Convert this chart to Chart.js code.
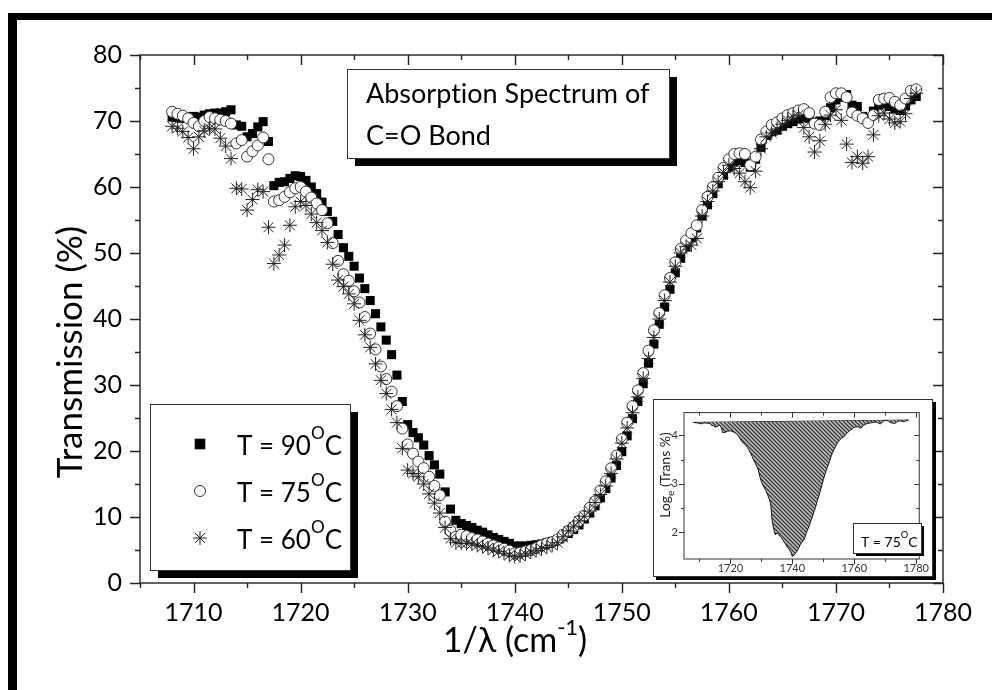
<!DOCTYPE html>
<html>
<head>
<meta charset="utf-8">
<script src="https://cdn.jsdelivr.net/npm/chart.js@4.4.1/dist/chart.umd.min.js"></script>
<style>
  html, body { margin: 0; padding: 0; background: #fff; }
  #wrap { position: relative; width: 992px; height: 690px; overflow: hidden; }
  #page { position: absolute; left: 8px; top: 13px; width: 1000px; height: 700px;
          border-top: 7px solid #000; border-left: 9px solid #000; }
  #main { position: absolute; left: 0; top: 0; }
  #insetBox { position: absolute; left: 653px; top: 399px; width: 280px; height: 178px;
              box-sizing: border-box; border: 1px solid #333; background: #fff;
              box-shadow: 3px 3px 0 #000; }
  #inset { position: absolute; left: 0; top: 0; }
</style>
</head>
<body>
<div id="wrap">
  <div id="page"></div>
  <canvas id="main" width="992" height="690"></canvas>
  <div id="insetBox"><canvas id="inset" width="278" height="176"></canvas></div>
</div>
<script>
// wavenumber grid (cm-1), shared by all three runs
var wavenumber = [
  1708.0, 1708.5, 1709.0, 1709.5, 1710.0, 1710.5, 1711.0, 1711.5, 1712.0, 1712.5,
  1713.0, 1713.5, 1714.0, 1714.5, 1715.0, 1715.5, 1716.0, 1716.5, 1717.0, 1717.5,
  1718.0, 1718.5, 1719.0, 1719.5, 1720.0, 1720.5, 1721.0, 1721.5, 1722.0, 1722.5,
  1723.0, 1723.5, 1724.0, 1724.5, 1725.0, 1725.5, 1726.0, 1726.5, 1727.0, 1727.5,
  1728.0, 1728.5, 1729.0, 1729.5, 1730.0, 1730.5, 1731.0, 1731.5, 1732.0, 1732.5,
  1733.0, 1733.5, 1734.0, 1734.5, 1735.0, 1735.5, 1736.0, 1736.5, 1737.0, 1737.5,
  1738.0, 1738.5, 1739.0, 1739.5, 1740.0, 1740.5, 1741.0, 1741.5, 1742.0, 1742.5,
  1743.0, 1743.5, 1744.0, 1744.5, 1745.0, 1745.5, 1746.0, 1746.5, 1747.0, 1747.5,
  1748.0, 1748.5, 1749.0, 1749.5, 1750.0, 1750.5, 1751.0, 1751.5, 1752.0, 1752.5,
  1753.0, 1753.5, 1754.0, 1754.5, 1755.0, 1755.5, 1756.0, 1756.5, 1757.0, 1757.5,
  1758.0, 1758.5, 1759.0, 1759.5, 1760.0, 1760.5, 1761.0, 1761.5, 1762.0, 1762.5,
  1763.0, 1763.5, 1764.0, 1764.5, 1765.0, 1765.5, 1766.0, 1766.5, 1767.0, 1767.5,
  1768.0, 1768.5, 1769.0, 1769.5, 1770.0, 1770.5, 1771.0, 1771.5, 1772.0, 1772.5,
  1773.0, 1773.5, 1774.0, 1774.5, 1775.0, 1775.5, 1776.0, 1776.5, 1777.0, 1777.5
];

// transmission (%) at T = 90 C
var trans90 = [
  70.6, 70.5, 70.4, 70.6, 70.7, 70.6, 70.9, 71.1, 71.2, 71.2,
  71.4, 71.7, 69.4, 69.2, 67.6, 68.1, 69.1, 69.9, 66.9, 60.2,
  60.7, 60.8, 61.3, 61.7, 61.6, 61.0, 60.0, 59.0, 57.7, 56.3,
  54.8, 52.8, 50.8, 49.5, 48.0, 46.2, 44.6, 42.8, 40.8, 38.8,
  36.8, 34.6, 31.5, 27.5, 24.0, 22.8, 22.0, 20.9, 19.3, 17.9,
  16.5, 13.8, 11.2, 9.5, 9.0, 8.7, 8.4, 8.0, 7.7, 7.3,
  6.9, 6.6, 6.3, 6.0, 5.6, 5.6, 5.6, 5.7, 5.8, 5.9,
  6.1, 6.3, 6.6, 7.0, 7.5, 8.1, 8.8, 9.7, 10.6, 11.7,
  12.9, 14.3, 15.9, 17.8, 19.9, 22.3, 24.9, 27.5, 30.2, 33.3,
  36.2, 39.2, 41.8, 44.5, 47.0, 49.2, 50.9, 52.3, 53.8, 55.6,
  57.3, 59.0, 60.5, 61.8, 63.0, 63.8, 64.0, 63.7, 63.0, 64.2,
  66.0, 67.8, 68.4, 68.6, 69.2, 69.6, 69.9, 70.3, 70.6, 70.4,
  69.8, 70.0, 70.8, 72.0, 73.2, 73.6, 74.0, 72.4, 72.2, 70.7,
  70.4, 71.5, 72.4, 72.6, 72.2, 71.8, 71.6, 72.3, 73.2, 73.7
];

// transmission (%) at T = 75 C
var trans75 = [
  71.4, 71.1, 70.8, 70.4, 69.7, 69.2, 70.0, 70.6, 70.4, 70.2,
  70.0, 69.6, 66.6, 67.1, 64.6, 65.4, 66.3, 67.5, 64.2, 57.8,
  58.0, 58.5, 59.2, 59.8, 60.0, 59.3, 58.4, 57.5, 56.5, 54.5,
  51.5, 48.8, 46.8, 45.8, 44.2, 42.5, 40.3, 37.8, 35.4, 32.8,
  30.9, 29.0, 26.8, 23.4, 21.0, 19.6, 18.4, 17.4, 16.1, 14.7,
  13.3, 9.3, 7.9, 7.0, 7.3, 7.1, 6.8, 6.6, 6.3, 6.0,
  5.7, 5.4, 5.2, 4.9, 4.5, 4.6, 4.8, 5.0, 5.3, 5.7,
  6.0, 6.2, 6.6, 7.3, 7.9, 8.5, 9.4, 10.2, 11.4, 12.4,
  14.0, 15.4, 17.4, 19.3, 21.8, 24.3, 26.8, 29.2, 31.8, 35.2,
  38.3, 40.9, 43.6, 46.2, 48.6, 50.6, 51.9, 53.0, 54.2, 56.5,
  58.5, 60.0, 61.4, 62.9, 64.2, 65.0, 65.1, 65.0, 63.3, 64.6,
  67.2, 68.4, 69.4, 69.8, 70.4, 70.9, 71.2, 71.6, 71.8, 71.2,
  69.6, 69.4, 71.4, 73.6, 74.2, 74.2, 73.6, 71.3, 70.8, 70.4,
  69.7, 70.9, 73.2, 73.4, 73.5, 72.9, 72.4, 73.4, 74.6, 74.8
];

// transmission (%) at T = 60 C
var trans60 = [
  69.2, 68.9, 68.4, 67.5, 65.8, 67.6, 68.5, 68.9, 68.8, 67.4,
  66.2, 64.3, 59.8, 59.7, 56.5, 58.1, 59.6, 59.3, 53.9, 48.4,
  49.7, 51.2, 54.2, 57.0, 57.8, 57.2, 55.9, 54.6, 53.4, 51.6,
  48.3, 45.9, 44.9, 43.8, 42.3, 39.8, 37.6, 35.7, 33.2, 30.7,
  28.7, 26.3, 24.3, 20.4, 17.1, 16.6, 16.1, 15.0, 13.5, 12.1,
  10.6, 8.4, 6.7, 6.1, 6.0, 6.0, 5.9, 5.7, 5.5, 5.3,
  5.0, 4.8, 4.5, 4.2, 4.0, 4.1, 4.4, 4.7, 4.9, 5.2,
  5.4, 5.7, 6.1, 7.0, 7.9, 8.5, 9.4, 10.1, 10.9, 12.2,
  13.4, 14.7, 16.6, 18.8, 21.2, 23.5, 25.8, 28.2, 31.0, 34.0,
  37.2, 40.0, 42.8, 45.6, 48.0, 50.0, 51.0, 51.2, 52.2, 55.6,
  57.8, 59.4, 60.8, 62.2, 63.3, 62.8, 62.1, 60.8, 59.9, 62.4,
  65.8, 67.6, 68.2, 68.8, 69.5, 70.1, 70.6, 70.9, 69.0, 67.6,
  65.3, 67.0, 69.5, 70.9, 71.7, 70.1, 66.5, 63.7, 64.6, 63.6,
  64.6, 67.9, 70.8, 71.2, 70.3, 69.7, 69.9, 71.1, 73.4, 74.2
];

var seriesLabels = ["T = 90", "T = 75", "T = 60"];
var insetXTicks = [1710, 1720, 1730, 1740, 1750, 1760, 1770, 1780];
var FONT = "Lato";

function points(ys) {
  return wavenumber.map(function (w, i) { return { x: w, y: ys[i] }; });
}

function onStep(v, step) {
  var r = v / step;
  return Math.abs(r - Math.round(r)) < 1e-6;
}

// box + inward mirror ticks on top/right, outward ticks on bottom/left
function drawFrame(chart, cfg) {
  var ctx = chart.ctx, a = chart.chartArea;
  var sx = chart.scales.x, sy = chart.scales.y;
  ctx.save();
  ctx.strokeStyle = cfg.color;
  ctx.lineWidth = cfg.width;
  ctx.strokeRect(a.left, a.top, a.right - a.left, a.bottom - a.top);
  ctx.beginPath();
  sx.ticks.forEach(function (t) {
    if (!onStep(t.value, cfg.xMinor)) return;
    var len = onStep(t.value, cfg.xMajor) ? cfg.major : cfg.minor;
    var px = Math.round(sx.getPixelForValue(t.value)) + 0.5;
    ctx.moveTo(px, a.bottom); ctx.lineTo(px, a.bottom + len);
    ctx.moveTo(px, a.top); ctx.lineTo(px, a.top + len);
  });
  sy.ticks.forEach(function (t) {
    if (!onStep(t.value, cfg.yMinor)) return;
    var len = onStep(t.value, cfg.yMajor) ? cfg.major : cfg.minor;
    var py = Math.round(sy.getPixelForValue(t.value)) + 0.5;
    ctx.moveTo(a.left, py); ctx.lineTo(a.left - len, py);
    ctx.moveTo(a.right, py); ctx.lineTo(a.right - len, py);
  });
  ctx.stroke();
  ctx.restore();
}

// text made of parts, some raised or lowered and smaller
function drawRich(ctx, parts, x, y, align) {
  var total = 0;
  parts.forEach(function (p) {
    ctx.font = p.size + "px " + FONT;
    p.w = ctx.measureText(p.text).width;
    total += p.w + (p.gap || 0);
  });
  var cx = align === "center" ? x - total / 2 : x;
  parts.forEach(function (p) {
    ctx.font = p.size + "px " + FONT;
    ctx.fillText(p.text, cx, y + (p.dy || 0));
    cx += p.w + (p.gap || 0);
  });
}

function shadowBox(ctx, x, y, w, h, s) {
  ctx.fillStyle = "#000";
  ctx.fillRect(x + s, y + s, w, h);
  ctx.fillStyle = "#fff";
  ctx.fillRect(x, y, w, h);
  ctx.strokeStyle = "#333";
  ctx.lineWidth = 1;
  ctx.strokeRect(x + 0.5, y + 0.5, w, h);
}

function degLabel(ctx, label, x, y, size) {
  drawRich(ctx, [
    { text: label, size: size },
    { text: "O", size: size * 0.66, dy: -size * 0.62, gap: 0 },
    { text: "C", size: size }
  ], x, y, "left");
}

var mainDecor = {
  id: "mainDecor",
  beforeDatasetsDraw: function (chart) {
    drawFrame(chart, { color: "#222", width: 1.4, major: 10, minor: 5,
                       xMinor: 5, xMajor: 10, yMinor: 5, yMajor: 10 });
  },
  afterDraw: function (chart) {
    var ctx = chart.ctx;
    ctx.save();
    ctx.fillStyle = "#000";
    ctx.textBaseline = "alphabetic";

    // axis titles
    drawRich(ctx, [
      { text: "1/\u03bb (cm", size: 34 },
      { text: "-1", size: 22, dy: -17 },
      { text: ")", size: 34 }
    ], 515, 652, "center");
    ctx.save();
    ctx.translate(82, 352);
    ctx.rotate(-Math.PI / 2);
    ctx.fillStyle = "#000";
    drawRich(ctx, [{ text: "Transmission (%)", size: 35 }], 0, 0, "center");
    ctx.restore();

    // title box
    shadowBox(ctx, 347, 69, 322, 89, 8);
    ctx.fillStyle = "#000";
    drawRich(ctx, [{ text: "Absorpt\u200Cion Spectrum of", size: 27 }], 366, 103, "left");
    drawRich(ctx, [{ text: "C=O Bond", size: 27 }], 366, 145, "left");

    // legend box
    shadowBox(ctx, 150, 404, 200, 166, 8);
    var rows = [444, 491, 538];
    var byLabel = {};
    chart.data.datasets.forEach(function (d) { byLabel[d.label] = d; });
    seriesLabels.forEach(function (lab, i) {
      var d = byLabel[lab];
      ctx.save();
      ctx.fillStyle = d.backgroundColor;
      ctx.strokeStyle = d.borderColor;
      ctx.lineWidth = d.borderWidth;
      Chart.helpers.drawPoint(ctx, {
        pointStyle: d.pointStyle, rotation: 0,
        radius: d.legendRadius, borderWidth: d.borderWidth
      }, 200, rows[i]);
      ctx.restore();
      ctx.fillStyle = "#000";
      degLabel(ctx, lab, 237, rows[i] + 11, 26);
    });
    ctx.restore();
  }
};

var mainChart = new Chart(document.getElementById("main").getContext("2d"), {
  type: "scatter",
  data: {
    datasets: [
      {
        label: seriesLabels[2],
        data: points(trans60),
        order: 0,
        pointStyle: "star",
        pointRadius: 7,
        legendRadius: 7,
        borderColor: "#222",
        backgroundColor: "#222",
        borderWidth: 1,
        showLine: false
      },
      {
        label: seriesLabels[1],
        data: points(trans75),
        order: 1,
        pointStyle: "circle",
        pointRadius: 5.5,
        legendRadius: 5.5,
        borderColor: "#333",
        backgroundColor: "#fff",
        borderWidth: 1,
        showLine: false
      },
      {
        label: seriesLabels[0],
        data: points(trans90),
        order: 2,
        pointStyle: "rect",
        pointRadius: 6.4,
        legendRadius: 7.5,
        borderColor: "#000",
        backgroundColor: "#000",
        borderWidth: 0,
        showLine: false
      }
    ]
  },
  options: {
    responsive: false,
    animation: false,
    layout: { padding: { left: 0, right: 49, top: 55, bottom: 0 } },
    plugins: { legend: { display: false }, tooltip: { enabled: false } },
    scales: {
      x: {
        type: "linear",
        min: 1705,
        max: 1780,
        afterFit: function (s) { s.height = 107; },
        grid: { display: false, drawTicks: false },
        border: { display: false },
        ticks: {
          stepSize: 5, autoSkip: false, maxRotation: 0, padding: 15, color: "#000",
          font: { family: FONT, size: 25 },
          callback: function (v) { return v % 10 === 0 ? String(v) : ""; }
        }
      },
      y: {
        min: 0,
        max: 80,
        afterFit: function (s) { s.width = 140; },
        grid: { display: false, drawTicks: false },
        border: { display: false },
        ticks: {
          stepSize: 5, autoSkip: false, padding: 18, color: "#000",
          font: { family: FONT, size: 25 },
          callback: function (v) { return v % 10 === 0 ? String(v) : ""; }
        }
      }
    }
  },
  plugins: [mainDecor]
});

// ---- inset: natural log of the 75 C run ----
function makeHatch(ctx) {
  var c = document.createElement("canvas");
  c.width = 4; c.height = 4;
  var g = c.getContext("2d");
  g.fillStyle = "#b8b8b8";
  g.fillRect(0, 0, 4, 4);
  g.strokeStyle = "#2e2e2e";
  g.lineWidth = 1.2;
  g.beginPath();
  g.moveTo(0, 0); g.lineTo(4, 4);
  g.moveTo(-1, 3); g.lineTo(1, 5);
  g.moveTo(3, -1); g.lineTo(5, 1);
  g.stroke();
  return ctx.createPattern(c, "repeat");
}

var insetDecor = {
  id: "insetDecor",
  afterDatasetsDraw: function (chart) {
    drawFrame(chart, { color: "#333", width: 1, major: 5, minor: 3,
                       xMinor: 10, xMajor: 20, yMinor: 0.5, yMajor: 1 });
    var ctx = chart.ctx;
    ctx.save();
    ctx.fillStyle = "#222";
    ctx.textBaseline = "alphabetic";
    ctx.translate(16, 75);
    ctx.rotate(-Math.PI / 2);
    drawRich(ctx, [
      { text: "Log", size: 14 },
      { text: "e", size: 10, dy: 4 },
      { text: " (Trans %)", size: 14 }
    ], 0, 0, "center");
    ctx.restore();

    ctx.save();
    shadowBox(ctx, 199, 123, 68, 30, 3);
    ctx.fillStyle = "#000";
    degLabel(ctx, "T = 75", 207, 147, 14);
    ctx.restore();
  }
};

var insetCtx = document.getElementById("inset").getContext("2d");
var insetChart = new Chart(insetCtx, {
  type: "scatter",
  data: {
    datasets: [
      {
        label: "ln T75",
        data: wavenumber.map(function (w, i) { return { x: w, y: Math.log(trans75[i]) }; }),
        showLine: true,
        pointRadius: 0,
        borderColor: "#111",
        borderWidth: 1,
        backgroundColor: makeHatch(insetCtx),
        fill: "+1"
      },
      {
        label: "baseline",
        data: [
          { x: wavenumber[0], y: Math.log(trans75[0]) },
          { x: wavenumber[wavenumber.length - 1], y: Math.log(trans75[trans75.length - 1]) }
        ],
        showLine: true,
        pointRadius: 0,
        borderColor: "#111",
        borderWidth: 1,
        fill: false
      }
    ]
  },
  options: {
    responsive: false,
    animation: false,
    layout: { padding: { left: 0, right: 6, top: 2, bottom: 0 } },
    plugins: { legend: { display: false }, tooltip: { enabled: false } },
    scales: {
      x: {
        type: "linear",
        min: 1705,
        max: 1781,
        afterFit: function (s) { s.height = 17; },
        afterBuildTicks: function (s) {
          s.ticks = insetXTicks.map(function (v) { return { value: v }; });
        },
        grid: { display: false, drawTicks: false },
        border: { display: false },
        ticks: {
          autoSkip: false, maxRotation: 0, padding: 3, color: "#333",
          font: { family: FONT, size: 11 },
          callback: function (v) { return v % 20 === 0 ? String(v) : ""; }
        }
      },
      y: {
        min: 1.45,
        max: 4.47,
        afterFit: function (s) { s.width = 30; },
        grid: { display: false, drawTicks: false },
        border: { display: false },
        ticks: {
          stepSize: 0.5, autoSkip: false, padding: 6, color: "#333",
          font: { family: FONT, size: 11 },
          callback: function (v) { return Math.abs(v - Math.round(v)) < 1e-6 ? String(Math.round(v)) : ""; }
        }
      }
    }
  },
  plugins: [insetDecor]
});
</script>
</body>
</html>
